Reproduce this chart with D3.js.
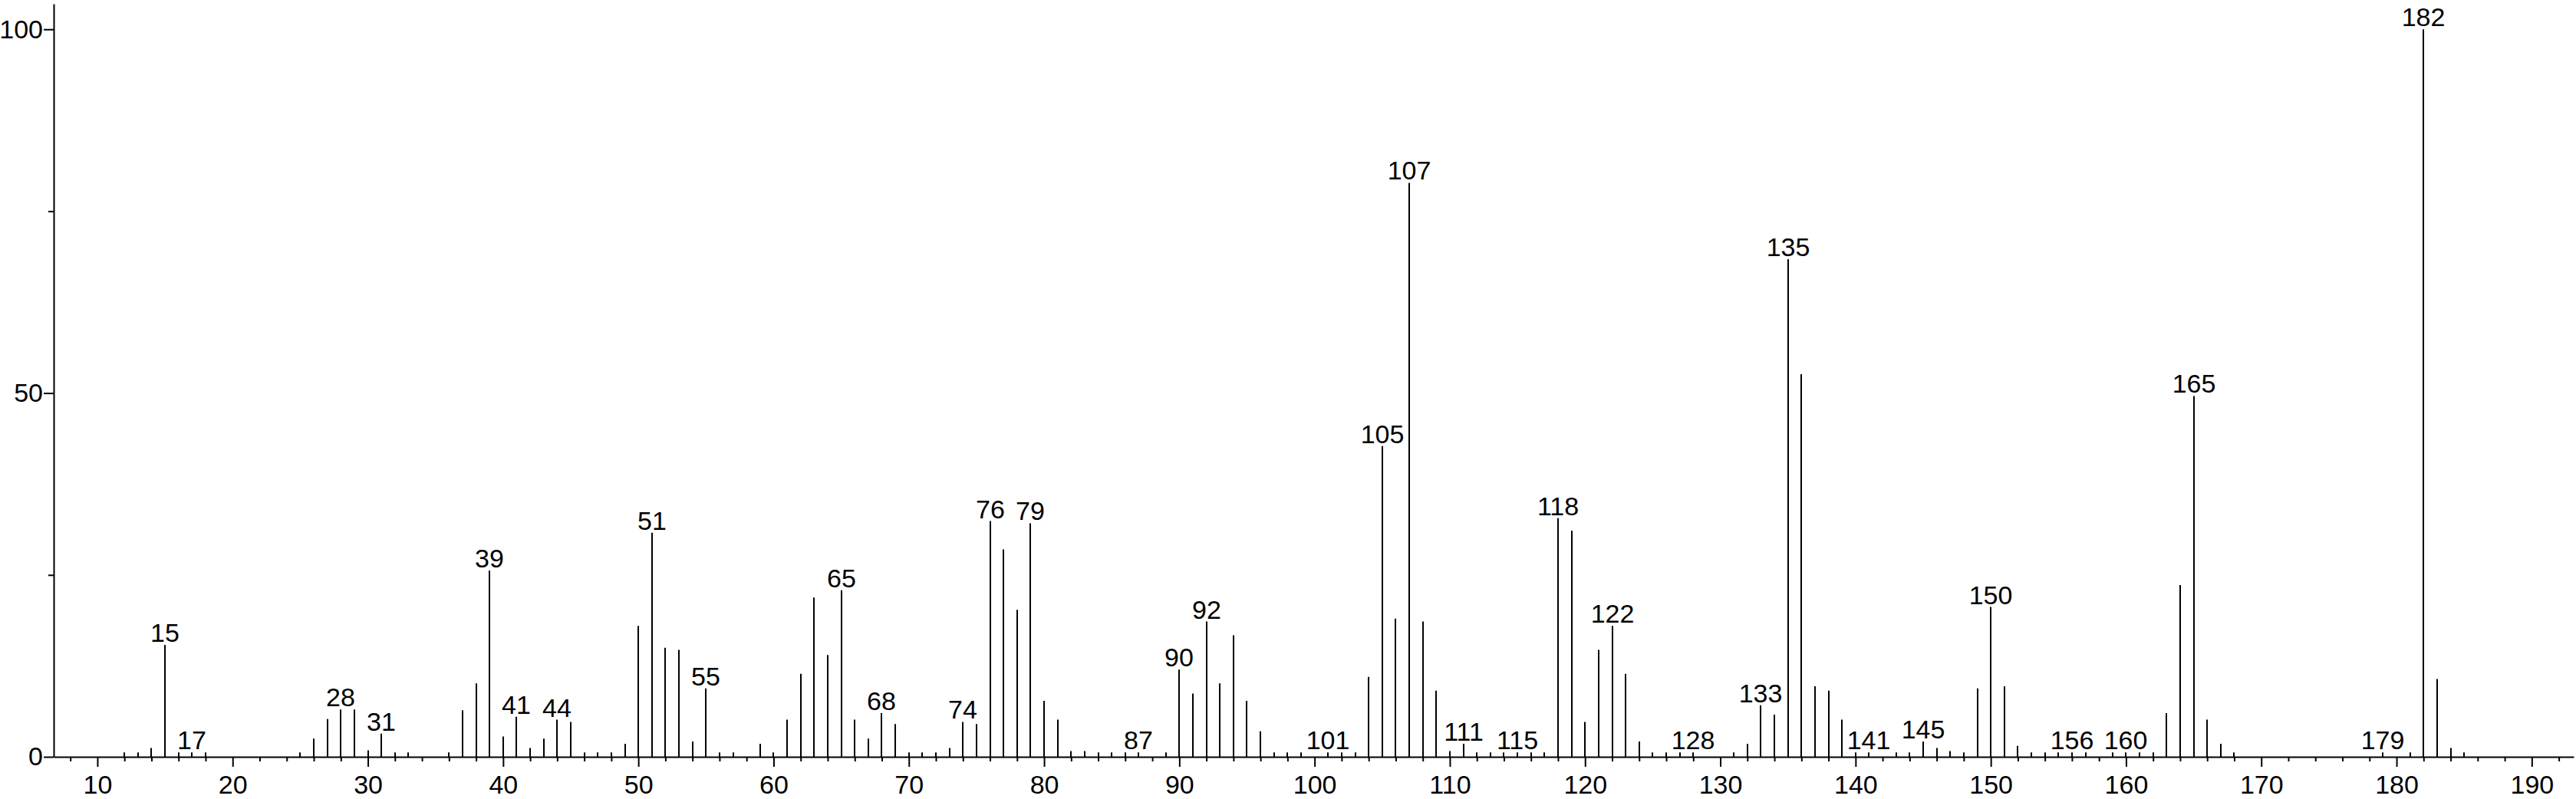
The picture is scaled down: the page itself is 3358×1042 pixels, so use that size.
<!DOCTYPE html>
<html>
<head>
<meta charset="utf-8">
<script src="https://cdn.jsdelivr.net/npm/d3@7"></script>
<style>
  body { margin: 0; background: #fff; }
  svg { display: block; }
  text { font-family: "Liberation Sans", Arial, sans-serif; font-size: 34px; fill: #000; }
</style>
</head>
<body>
<script>
// m/z values and relative intensities
const masses = [12, 13, 14, 15, 16, 17, 18, 25, 26, 27, 28, 29, 30, 31, 32, 33, 36, 37, 38, 39,
    40, 41, 42, 43, 44, 45, 46, 47, 48, 49, 50, 51, 52, 53, 54, 55, 56, 57, 59, 60,
    61, 62, 63, 64, 65, 66, 67, 68, 69, 70, 71, 72, 73, 74, 75, 76, 77, 78, 79, 80,
    81, 82, 83, 84, 85, 86, 87, 89, 90, 91, 92, 93, 94, 95, 96, 97, 98, 99, 101, 102,
    103, 104, 105, 106, 107, 108, 109, 110, 111, 112, 113, 114, 115, 116, 117, 118, 119, 120, 121, 122,
    123, 124, 125, 126, 127, 128, 131, 132, 133, 134, 135, 136, 137, 138, 139, 140, 141, 143, 144, 145,
    146, 147, 148, 149, 150, 151, 152, 153, 154, 155, 156, 157, 159, 160, 161, 162, 163, 164, 165, 166,
    167, 168, 179, 181, 182, 183, 184, 185];
const intensities = [0.6, 0.6, 1.2, 15.4, 0.6, 0.6, 0.6, 0.6, 2.5, 5.2, 6.5, 6.5, 0.9, 3.2, 0.6, 0.6, 0.6, 6.4, 10.1, 25.6,
    2.8, 5.5, 1.2, 2.5, 5.1, 4.8, 0.6, 0.6, 0.6, 1.8, 18.0, 30.8, 15.0, 14.7, 2.1, 9.4, 0.6, 0.6, 1.8, 0.6,
    5.1, 11.4, 21.9, 14.0, 22.9, 5.1, 2.5, 6.0, 4.5, 0.6, 0.6, 0.6, 1.2, 4.8, 4.5, 32.4, 28.5, 20.2, 32.1, 7.7,
    5.1, 0.8, 0.8, 0.6, 0.6, 0.6, 0.6, 0.6, 12.0, 8.7, 18.6, 10.1, 16.7, 7.7, 3.5, 0.6, 0.6, 0.6, 0.6, 0.6,
    0.6, 11.0, 42.7, 19.0, 78.9, 18.6, 9.1, 0.8, 1.8, 0.6, 0.6, 0.6, 0.6, 0.6, 0.6, 32.8, 31.1, 4.8, 14.7, 18.0,
    11.4, 2.1, 0.6, 0.6, 0.6, 0.6, 0.6, 1.8, 7.1, 5.8, 68.4, 52.6, 9.7, 9.1, 5.1, 0.6, 0.6, 0.6, 0.6, 2.1,
    1.2, 0.8, 0.6, 9.4, 20.6, 9.7, 1.5, 0.6, 0.6, 0.6, 0.6, 0.6, 0.6, 0.6, 0.6, 0.6, 6.0, 23.6, 49.6, 5.1,
    1.8, 0.6, 0.6, 0.6, 100, 10.7, 1.2, 0.6];

// peaks that carry a mass label
const labelledMasses = [15, 17, 28, 31, 39, 41, 44, 51, 55, 65, 68, 74, 76, 79, 87, 90, 92, 101, 105, 107,
    111, 115, 118, 122, 128, 133, 135, 141, 145, 150, 156, 160, 165, 179, 182];

const xTickLabels = [10, 20, 30, 40, 50, 60, 70, 80, 90, 100, 110, 120, 130, 140, 150, 160, 170, 180, 190];
const xMinorTicks = d3.range(8, 194, 2).filter(v => v % 10 !== 0);
const yTickLabels = [0, 50, 100];
const yMinorTicks = [25, 75];

const svgWidth = 3358;
const svgHeight = 1042;

const svg = d3.select('body').append('svg')
    .attr('width', svgWidth)
    .attr('height', svgHeight);

const xScale = d3.scaleLinear()
    .domain([6.77, 193.1])
    .range([70, 3355]);

const yScale = d3.scaleLinear()
    .domain([0, 103.5])
    .range([987, 5]);

// x axis: long ticks with labels, short ticks every 2 units
svg.append('g')
    .attr('transform', `translate(0,${yScale(0)})`)
    .call(d3.axisBottom(xScale).tickValues(xTickLabels).tickFormat(d3.format('d'))
        .tickSize(13).tickSizeOuter(0).tickPadding(11));

svg.append('g')
    .attr('transform', `translate(0,${yScale(0)})`)
    .call(d3.axisBottom(xScale).tickValues(xMinorTicks).tickFormat('')
        .tickSize(6).tickSizeOuter(0))
    .select('.domain').remove();

// y axis
svg.append('g')
    .attr('transform', `translate(${xScale.range()[0]},0)`)
    .call(d3.axisLeft(yScale).tickValues(yTickLabels).tickFormat(d3.format('d'))
        .tickSize(13).tickSizeOuter(0).tickPadding(1));

svg.append('g')
    .attr('transform', `translate(${xScale.range()[0]},0)`)
    .call(d3.axisLeft(yScale).tickValues(yMinorTicks).tickFormat('')
        .tickSize(7).tickSizeOuter(0))
    .select('.domain').remove();

svg.selectAll('.domain, .tick line')
    .attr('stroke', '#000')
    .attr('stroke-width', 2);

svg.selectAll('.tick text')
    .attr('font-family', '"Liberation Sans", Arial, sans-serif')
    .attr('font-size', 34)
    .attr('fill', '#000');

// stick spectrum
const peaks = masses.map((m, i) => ({ mass: m, value: intensities[i] }));

svg.append('g').selectAll('line')
    .data(peaks)
    .enter().append('line')
    .attr('x1', d => Math.round(xScale(d.mass)))
    .attr('x2', d => Math.round(xScale(d.mass)))
    .attr('y1', yScale(0))
    .attr('y2', d => yScale(d.value))
    .attr('stroke', '#000')
    .attr('stroke-width', 2);

// mass labels above selected peaks
svg.append('g').selectAll('text')
    .data(peaks.filter(d => labelledMasses.includes(d.mass)))
    .enter().append('text')
    .attr('x', d => Math.round(xScale(d.mass)))
    .attr('y', d => yScale(d.value) - 4)
    .attr('text-anchor', 'middle')
    .text(d => d.mass);
</script>
</body>
</html>
